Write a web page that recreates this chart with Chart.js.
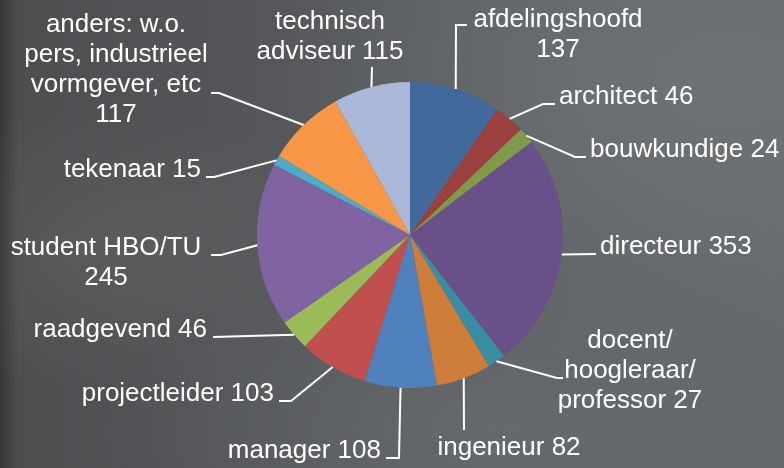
<!DOCTYPE html>
<html>
<head>
<meta charset="utf-8">
<script src="https://cdn.jsdelivr.net/npm/chart.js@4"></script>
<style>
  html, body { margin: 0; padding: 0; }
  body {
    width: 784px; height: 468px; overflow: hidden;
    background:
      linear-gradient(90deg, rgba(30,32,34,0.45) 0px, rgba(30,32,34,0) 18px),
      radial-gradient(ellipse 260px 140px at 110px 250px, rgba(110,110,110,0.35), rgba(110,110,110,0)),
      radial-gradient(ellipse 420px 300px at 700px 80px, rgba(120,124,128,0.55), rgba(120,124,128,0)),
      radial-gradient(ellipse 380px 160px at 480px 430px, rgba(112,116,120,0.45), rgba(112,116,120,0)),
      linear-gradient(90deg, #4c4d4f 0%, #55575a 35%, #5f6265 65%, #65686b 100%);
  }
  #wrap { position: absolute; left: 0; top: 0; width: 784px; height: 468px; }
</style>
</head>
<body>
<div id="wrap"><canvas id="myChart" width="784" height="468"></canvas></div>
<script>
// beroep van respondenten, met de klok mee vanaf boven
const categories = [
  "afdelingshoofd",
  "architect",
  "bouwkundige",
  "directeur",
  "docent/ hoogleraar/ professor",
  "ingenieur",
  "manager",
  "projectleider",
  "raadgevend",
  "student HBO/TU",
  "tekenaar",
  "anders: w.o. pers, industrieel vormgever, etc",
  "technisch adviseur",
];
const counts = [137, 46, 24, 353, 27, 82, 108, 103, 46, 245, 15, 117, 115];

const sliceColors = [
  "#41699B", "#9B403E", "#7F9B49", "#6A5088", "#3B8DA3", "#CD7D38", "#4F81BD",
  "#C0504D", "#9BBB59", "#8064A2", "#4BACC6", "#F79646", "#AAB9D7",
];

// where each label sits and how its leader line runs (after leaving the slice)
const labelLayout = [
  { x: 558, y: 27, align: "center", wrap: 180, leader: [[456, 25], [467, 25]] },
  { x: 559, y: 104, align: "left", wrap: 999, leader: [[543, 104], [555, 104]] },
  { x: 590, y: 157, align: "left", wrap: 999, leader: [[575, 157], [586, 157]] },
  { x: 600, y: 254, align: "left", wrap: 999, leader: [[596, 254]] },
  { x: 630, y: 348, align: "center", wrap: 150, leader: [[557, 378], [563, 378]] },
  { x: 509, y: 455, align: "center", wrap: 999, leader: [[464, 430]] },
  { x: 381, y: 458, align: "right", wrap: 999, leader: [[399, 458], [386, 458]] },
  { x: 274, y: 401, align: "right", wrap: 999, leader: [[291, 401], [279, 401]] },
  { x: 207, y: 337, align: "right", wrap: 999, leader: [[213, 337]] },
  { x: 106, y: 255, align: "center", wrap: 200, leader: [[221, 255], [211, 255]] },
  { x: 201, y: 177, align: "right", wrap: 999, leader: [[214, 177], [206, 177]] },
  { x: 116, y: 32, align: "center", wrap: 195, leader: [[219, 93], [211, 93]] },
  { x: 330, y: 29, align: "center", wrap: 160, leader: [[372, 67]] },
];

const font = '26px "Liberation Sans", Arial, sans-serif';
const lineHeight = 30;

function wrapText(ctx, text, maxWidth) {
  const words = text.split(" ");
  const lines = [];
  let cur = "";
  words.forEach((w) => {
    const test = cur ? cur + " " + w : w;
    if (cur && ctx.measureText(test).width > maxWidth) {
      lines.push(cur);
      cur = w;
    } else {
      cur = test;
    }
  });
  if (cur) lines.push(cur);
  return lines;
}

const leaderLabels = {
  id: "leaderLabels",
  afterDraw(chart) {
    const ctx = chart.ctx;
    const meta = chart.getDatasetMeta(0);
    ctx.save();
    ctx.font = font;
    ctx.fillStyle = "#ffffff";
    ctx.strokeStyle = "#ffffff";
    ctx.lineWidth = 2;
    ctx.textBaseline = "alphabetic";
    meta.data.forEach((arc, i) => {
      const lay = labelLayout[i];
      const mid = (arc.startAngle + arc.endAngle) / 2;
      const sx = arc.x + Math.cos(mid) * arc.outerRadius;
      const sy = arc.y + Math.sin(mid) * arc.outerRadius;
      ctx.beginPath();
      ctx.moveTo(sx, sy);
      lay.leader.forEach((p) => ctx.lineTo(p[0], p[1]));
      ctx.stroke();

      const text = categories[i] + " " + counts[i];
      const lines = wrapText(ctx, text, lay.wrap);
      ctx.textAlign = lay.align;
      lines.forEach((ln, k) => {
        ctx.fillText(ln, lay.x, lay.y + k * lineHeight);
      });
    });
    ctx.restore();
  },
};

const ctx = document.getElementById("myChart");
const myChart = new Chart(ctx, {
  type: "pie",
  data: {
    labels: categories,
    datasets: [
      {
        data: counts,
        backgroundColor: sliceColors,
        borderWidth: 0,
      },
    ],
  },
  options: {
    responsive: false,
    animation: false,
    devicePixelRatio: 1,
    layout: {
      padding: { left: 257, right: 221, top: 82, bottom: 80 },
    },
    plugins: {
      legend: { display: false },
      tooltip: { enabled: false },
    },
  },
  plugins: [leaderLabels],
});
</script>
</body>
</html>
